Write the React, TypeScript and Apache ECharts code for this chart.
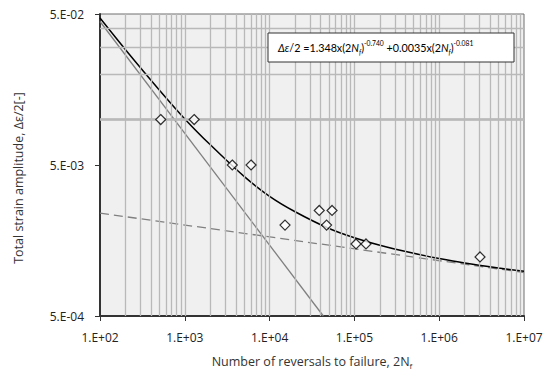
import React, { useEffect, useRef } from 'react';
import * as echarts from 'echarts';

// Test data (reversals to failure, strain amplitude)
const reversals = [520, 1290, 3630, 6040, 15200, 38500, 47000, 54500, 104500, 137000, 3030000];
const strainAmp = [0.01, 0.01, 0.005, 0.005, 0.002, 0.0025, 0.002, 0.0025, 0.0015, 0.0015, 0.00123];

// Total fitted curve
const fitX = [100, 200, 500, 1000, 2000, 5000, 1e4, 2e4, 5e4, 1e5, 2e5, 5e5, 1e6, 2e6, 5e6, 1e7];
const fitY = [0.047, 0.029, 0.0157, 0.0101, 0.0068, 0.0042, 0.0031, 0.00245, 0.0019, 0.00165, 0.00147, 0.0013, 0.0012, 0.00112, 0.00104, 0.00099];

// Plastic line (solid grey)
const plasticX = [100, 43000];
const plasticY = [0.0446, 0.0005];

// Elastic line (dashed grey)
const elasticX = [100, 1e7];
const elasticY = [0.0024, 0.00097];

// Tick labels
const xTickValues = [1e2, 1e3, 1e4, 1e5, 1e6, 1e7];
const yTickValues = [5e-4, 5e-3, 5e-2];

// Grid mantissas
const gridMantissas = [1, 2, 3, 4, 5, 6, 7, 8, 9];
const xDecades = [2, 3, 4, 5, 6];
const yDecades = [-4, -3, -2];

const FONT = 'Open Sans';
const EQFONT = 'Lato';

function fmtX(v: number) {
  const e = Math.round(Math.log10(v));
  return '1.E+' + (e < 10 ? '0' + e : String(e));
}
function fmtY(v: number) {
  const e = Math.floor(Math.log10(v) + 1e-9);
  const m = Math.round(v / Math.pow(10, e));
  const ae = Math.abs(e);
  return m + '.E' + (e < 0 ? '-' : '+') + (ae < 10 ? '0' + ae : String(ae));
}

export default function App() {
  const ref = useRef<HTMLDivElement>(null);
  useEffect(() => {
    document.body.style.margin = '0';
    const chart = echarts.init(ref.current!, null, { renderer: 'svg' });

    const xGrid: number[] = [];
    xDecades.forEach((d) => gridMantissas.forEach((m) => {
      const v = m * Math.pow(10, d);
      if (v > 100 && v < 1e7) xGrid.push(v);
    }));
    const yGrid: number[] = [];
    yDecades.forEach((d) => gridMantissas.forEach((m) => {
      const v = m * Math.pow(10, d);
      if (v > 5.0001e-4 && v < 4.9999e-2) yGrid.push(v);
    }));

    const option: any = {
      animation: false,
      textStyle: { fontFamily: FONT },
      grid: {
        left: 100, right: 29, top: 14, bottom: 55,
        containLabel: false, outerBoundsMode: 'none',
        show: true, backgroundColor: '#f0f0f0', borderColor: '#6e6e6e', borderWidth: 1,
      },
      xAxis: {
        type: 'log', logBase: 10, min: 100, max: 1e7,
        name: 'Number of reversals to failure, 2N{sub|f}',
        nameLocation: 'middle', nameGap: 38,
        nameTextStyle: {
          fontFamily: FONT, fontSize: 12.5, color: '#333',
          rich: { sub: { fontFamily: FONT, fontSize: 8, color: '#333', verticalAlign: 'bottom', lineHeight: 15 } },
          lineHeight: 15,
        },
        axisLine: { show: true, onZero: false, lineStyle: { color: '#333', width: 2 } },
        axisTick: { show: true, length: 5, inside: false, customValues: xTickValues, lineStyle: { color: '#333', width: 1 } },
        axisLabel: { customValues: xTickValues, formatter: (v: number) => fmtX(v), fontFamily: FONT, fontSize: 12, color: '#222', margin: 15 },
        splitLine: { show: false },
        minorTick: { show: false },
      },
      yAxis: {
        type: 'log', logBase: 10, min: 5e-4, max: 5e-2,
        name: 'Total strain amplitude, \u0394\u03b5/2[-]',
        nameLocation: 'middle', nameGap: 75,
        nameTextStyle: { fontFamily: FONT, fontSize: 12.5, color: '#333', padding: [0, 26, 0, 0] },
        axisLine: { show: true, onZero: false, lineStyle: { color: '#333', width: 2 } },
        axisTick: { show: true, length: 5, inside: false, customValues: yTickValues, lineStyle: { color: '#333', width: 1 } },
        axisLabel: { customValues: yTickValues, formatter: (v: number) => fmtY(v), fontFamily: FONT, fontSize: 12, color: '#222', margin: 16 },
        splitLine: { show: false },
      },
      series: [
        {
          type: 'line', data: [], z: 1, silent: true,
          markLine: {
            silent: true, symbol: ['none', 'none'], label: { show: false },
            lineStyle: { color: '#b9b9b9', type: 'solid', width: 1.3 },
            emphasis: { disabled: true },
            data: [
              ...xGrid.map((v) => ({ xAxis: v })),
              ...yGrid.map((v) => ({ yAxis: v })),
            ],
          },
        },
        {
          type: 'line', name: 'plastic', z: 3, showSymbol: false, symbol: 'none',
          data: plasticX.map((x, i) => [x, plasticY[i]]),
          lineStyle: { color: '#7f7f7f', width: 1.3 },
        },
        {
          type: 'line', name: 'elastic', z: 3, showSymbol: false, symbol: 'none',
          data: elasticX.map((x, i) => [x, elasticY[i]]),
          lineStyle: { color: '#808080', width: 1.3, type: [9, 5] },
        },
        {
          type: 'line', name: 'total', z: 4, showSymbol: false, symbol: 'none', smooth: 0.3,
          data: fitX.map((x, i) => [x, fitY[i]]),
          lineStyle: { color: '#000', width: 1.5 },
        },
        {
          type: 'scatter', name: 'test', z: 5, symbol: 'diamond', symbolSize: [10, 10],
          data: reversals.map((x, i) => [x, strainAmp[i]]),
          itemStyle: { color: '#fff', borderColor: '#000', borderWidth: 1.2 },
        },
      ],
      graphic: [
        {
          type: 'group', z: 100,
          children: [
            {
              type: 'rect', shape: { x: 268, y: 33, width: 246, height: 29 },
              style: { fill: '#fff', stroke: '#333', lineWidth: 1 }, z: 100,
            },
            {
              type: 'text', x: 278, y: 47, z: 101,
              style: {
                text: '{it|\u0394\u03b5}{n|/2 =1.348x(2}{it|N}{sub|f}{n|)}{sup|-0.740}{n| +0.0035x(2}{it|N}{sub|f}{n|)}{sup|-0.081}',
                verticalAlign: 'middle',
                rich: {
                  n: { fontFamily: EQFONT, fontSize: 10.75, fill: '#000', lineHeight: 16 },
                  it: { fontFamily: EQFONT, fontSize: 10.75, fontStyle: 'italic', fill: '#000', lineHeight: 16 },
                  sub: { fontFamily: EQFONT, fontSize: 6.75, fontStyle: 'italic', fill: '#000', verticalAlign: 'bottom', lineHeight: 9 },
                  sup: { fontFamily: EQFONT, fontSize: 6.75, fill: '#000', verticalAlign: 'top', lineHeight: 9 },
                },
              },
            },
          ],
        },
      ],
    };
    chart.setOption(option);
    return () => chart.dispose();
  }, []);
  return <div ref={ref} style={{ width: 553, height: 371 }} />;
}
